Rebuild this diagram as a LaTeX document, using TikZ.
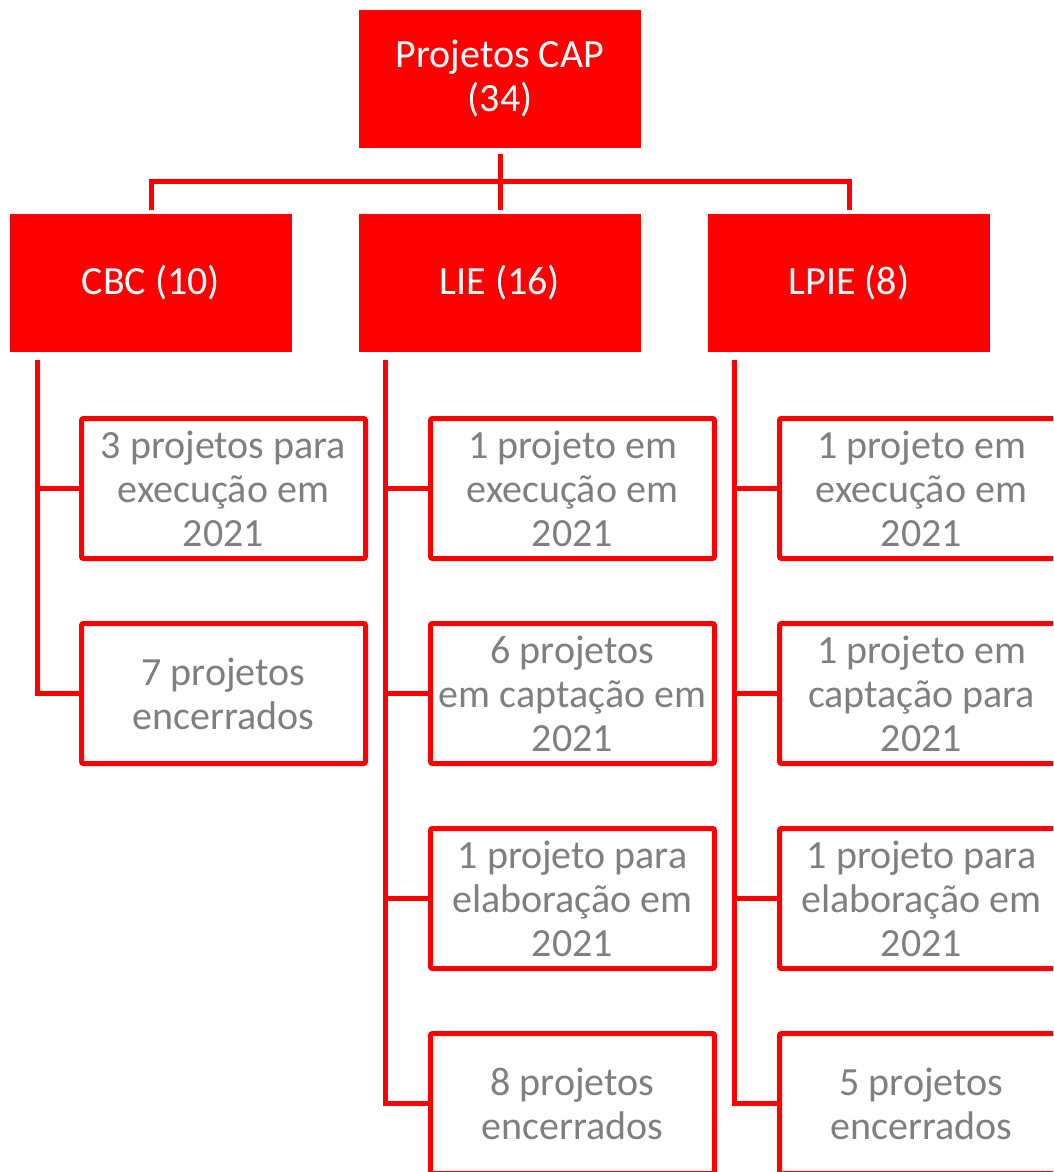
\documentclass[tikz,border=0pt]{standalone}
\usepackage{fontspec}
\setmainfont{Carlito}
\usetikzlibrary{calc}
\definecolor{capred}{HTML}{FF0000}
\definecolor{capgray}{HTML}{7F7F7F}
\tikzset{
  headbox/.style={fill=capred, draw=none, minimum width=282pt, minimum height=138pt,
    inner sep=0pt, align=center, text=white, font=\fontsize{40}{44}\selectfont},
  leafbox/.style={fill=white, draw=capred, line width=5pt, rounded corners=2pt,
    minimum width=284pt, minimum height=140pt, inner sep=0pt, align=center,
    text=capgray, font=\fontsize{40}{44}\selectfont},
  conn/.style={draw=capred, line width=5pt}
}
\begin{document}
\begin{tikzpicture}[x=1pt,y=1pt]
\useasboundingbox (0,0) rectangle (1053,-1172);
\clip (0,0) rectangle (1053,-1172);
% level 1
\node[headbox] (top) at (500,-79) {Projetos CAP\\(34)};
% level 2
\node[headbox] (cbc)  at (151,-283) {CBC (10)};
\node[headbox] (lie)  at (500,-283) {LIE (16)};
\node[headbox] (lpie) at (849,-283) {LPIE (8)};
% level 3 - CBC
\node[leafbox] (c1) at (223.5,-488.5) {3 projetos para\\execução em\\2021};
\node[leafbox] (c2) at (223.5,-693.5) {7 projetos\\encerrados};
% level 3 - LIE
\node[leafbox] (l1) at (572.5,-488.5) {1 projeto em\\execução em\\2021};
\node[leafbox] (l2) at (572.5,-693.5) {6 projetos\\em captação em\\2021};
\node[leafbox] (l3) at (572.5,-898.5) {1 projeto para\\elaboração em\\2021};
\node[leafbox] (l4) at (572.5,-1103.5) {8 projetos\\encerrados};
% level 3 - LPIE
\node[leafbox] (p1) at (921.5,-488.5) {1 projeto em\\execução em\\2021};
\node[leafbox] (p2) at (921.5,-693.5) {1 projeto em\\captação para\\2021};
\node[leafbox] (p3) at (921.5,-898.5) {1 projeto para\\elaboração em\\2021};
\node[leafbox] (p4) at (921.5,-1103.5) {5 projetos\\encerrados};
% connectors level 1 -> 2
\coordinate (hub) at (500,-181);
\draw[conn, shorten <=6pt, shorten >=4pt] (top.south) -- (lie.north);
\draw[conn, shorten >=4pt] (hub) -| (cbc.north);
\draw[conn, shorten >=4pt] (hub) -| (lpie.north);
% connectors level 2 -> 3
\coordinate (cbcA)  at ($(cbc.south west)+(28,-8)$);
\coordinate (lieA)  at ($(lie.south west)+(27,-8)$);
\coordinate (lpieA) at ($(lpie.south west)+(27,-8)$);
\foreach \c in {c1,c2} {\draw[conn] (cbcA) |- (\c.west);}
\foreach \c in {l1,l2,l3,l4} {\draw[conn] (lieA) |- (\c.west);}
\foreach \c in {p1,p2,p3,p4} {\draw[conn] (lpieA) |- (\c.west);}
\end{tikzpicture}
\end{document}
